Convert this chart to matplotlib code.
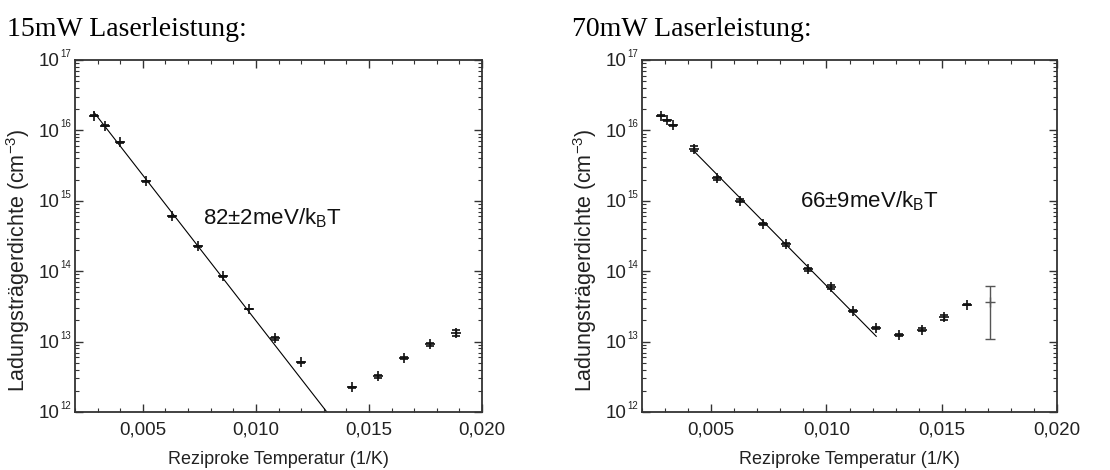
import numpy as np
import matplotlib
matplotlib.use("Agg")
import matplotlib.pyplot as plt
import matplotlib.transforms as mtransforms
from matplotlib.ticker import MultipleLocator, FixedLocator, FuncFormatter, LogLocator, NullFormatter

plt.rcParams['font.family'] = ['Liberation Sans', 'DejaVu Sans']
plt.rcParams['mathtext.fontset'] = 'custom'
plt.rcParams['mathtext.rm'] = 'Liberation Sans'
plt.rcParams['mathtext.it'] = 'Liberation Sans:italic'
plt.rcParams['mathtext.bf'] = 'Liberation Sans:bold'

# ---- data: 15 mW ----
titles = ["15mW Laserleistung:", "70mW Laserleistung:"]
x15 = [0.00285, 0.00334, 0.00399, 0.00513, 0.00628, 0.00744, 0.00856, 0.00969,
       0.01084, 0.01200, 0.01427, 0.01541, 0.01656, 0.01771, 0.01883]
n15 = [1.62e16, 1.16e16, 6.8e15, 1.88e15, 6.0e14, 2.26e14, 8.5e13, 2.9e13,
       1.11e13, 5.05e12, 2.24e12, 3.2e12, 5.8e12, 9.2e12, 1.33e13]
e15 = [0.4e15, 0.2e15, 0.1e15, 0.03e15, 0.1e14, 0.04e14, 0.1e13, 0.03e13,
       0.04e13, 0.05e12, 0.05e12, 0.12e12, 0.15e12, 0.5e12, 1.2e12]
fit15_E = 0.082          # eV
fit15_log10A = 17.43
fit15_range = [0.00283, 0.0140]
label15 = r"82±2meV/k$_\mathregular{B}$T"

# ---- data: 70 mW ----
x70 = [0.00282, 0.00308, 0.00333, 0.00427, 0.00526, 0.00625, 0.00724, 0.00823,
       0.00920, 0.01020, 0.01117, 0.01216, 0.01314, 0.01413, 0.01510, 0.01609, 0.01709]
n70 = [1.62e16, 1.40e16, 1.18e16, 5.5e15, 2.1e15, 1.0e15, 4.75e14, 2.4e14,
       1.06e14, 6.0e13, 2.7e13, 1.55e13, 1.25e13, 1.48e13, 2.2e13, 3.35e13, 3.6e13]
e70 = [0.2e15, 0.2e15, 0.3e15, 0.45e15, 0.1e15, 0.05e15, 0.15e14, 0.12e14,
       0.4e13, 0.4e13, 0.1e13, 0.05e13, 0.4e12, 0.6e12, 1.8e12, 0.5e12, 2.5e13]
fit70_E = 0.066
fit70_log10A = 17.12
fit70_range = [0.00427, 0.01216]
label70 = r"66±9meV/k$_\mathregular{B}$T"

kB = 8.617e-5
xlim = (0.002, 0.020)
ylim = (1e12, 1e17)
xticks = [0.005, 0.010, 0.015, 0.020]
xticklabels = ["0,005", "0,010", "0,015", "0,020"]
ydecades = [12, 13, 14, 15, 16, 17]

DPI = 100
fig = plt.figure(figsize=(11.1, 4.7), dpi=DPI)
axes_rects = [[75/1110, 1-412/470, 407/1110, 352/470],
              [642/1110, 1-412/470, 415/1110, 352/470]]
title_pos = [(7/1110, 1-36/470), (572/1110, 1-36/470)]
text_pos = [(0.00767, 5.6e14), (0.00885, 1.0e15)]

datasets = [(x15, n15, e15, fit15_E, fit15_log10A, fit15_range, label15),
            (x70, n70, e70, fit70_E, fit70_log10A, fit70_range, label70)]

frame_col = '#333333'
txt_col = '#222222'
for i, (xs, ns, es, E, lA, fr, lab) in enumerate(datasets):
    ax = fig.add_axes(axes_rects[i])
    ax.set_yscale('log')
    ax.set_xlim(*xlim)
    ax.set_ylim(*ylim)
    xf = np.linspace(fr[0], fr[1], 200)
    yf = 10 ** (lA - E / (kB * np.log(10)) * xf)
    ax.plot(xf, yf, color='black', lw=0.8)
    xs = np.array(xs); ns = np.array(ns); es = np.array(es)
    if i == 1:
        ax.errorbar(xs[:-1], ns[:-1], yerr=es[:-1], fmt='+', color='#111111', ms=7,
                    mew=1.2, elinewidth=1.0, capsize=3, capthick=1.0)
        ax.errorbar(xs[-1:], ns[-1:], yerr=es[-1:], fmt='+', color='#555555', ms=7,
                    mew=1.0, elinewidth=1.0, capsize=3.5, capthick=1.0)
    else:
        ax.errorbar(xs, ns, yerr=es, fmt='+', color='#111111', ms=7,
                    mew=1.2, elinewidth=1.0, capsize=3, capthick=1.0)
    ax.text(text_pos[i][0], text_pos[i][1], lab, fontsize=16, color='#111111',
            ha='left', va='center')
    ax.xaxis.set_major_locator(FixedLocator(xticks))
    ax.set_xticklabels(xticklabels)
    ax.xaxis.set_minor_locator(MultipleLocator(0.001))
    ax.yaxis.set_major_locator(FixedLocator([10.0 ** d for d in ydecades]))
    ax.yaxis.set_minor_locator(LogLocator(base=10, subs=np.arange(2, 10), numticks=20))
    ax.yaxis.set_minor_formatter(NullFormatter())
    ax.yaxis.set_major_formatter(FuncFormatter(lambda v, p: "10"))
    ax.tick_params(which='both', direction='in', top=True, right=True,
                   color=frame_col, labelsize=13.5, labelcolor=txt_col)
    ax.tick_params(which='major', length=6, width=1.0, pad=7)
    ax.tick_params(axis='y', which='major', pad=11.5)
    ax.tick_params(which='minor', length=3, width=0.8)
    # small exponents of the y tick labels
    tr = mtransforms.blended_transform_factory(ax.transAxes, ax.transData)
    off = mtransforms.ScaledTranslation(-15 / DPI, 6 / DPI, fig.dpi_scale_trans)
    for d in ydecades:
        ax.text(0, 10.0 ** d, str(d), fontsize=7, color=txt_col,
                ha='left', va='center', transform=tr + off, clip_on=False)
    for s in ax.spines.values():
        s.set_color(frame_col)
        s.set_linewidth(1.3)
    ax.set_xlabel("Reziproke Temperatur (1/K)", fontsize=13, color=txt_col, labelpad=9)
    ax.set_ylabel("Ladungsträgerdichte (cm$^{\\mathregular{-3}}$)", fontsize=15.5,
                  color=txt_col, va='center')
    w_px = axes_rects[i][2] * 1110
    ax.yaxis.set_label_coords(-57 / w_px, 0.43)
    fig.text(title_pos[i][0], title_pos[i][1], titles[i], fontsize=20,
             family='Liberation Serif', ha='left', va='baseline')

fig.savefig("out.png", dpi=DPI)
